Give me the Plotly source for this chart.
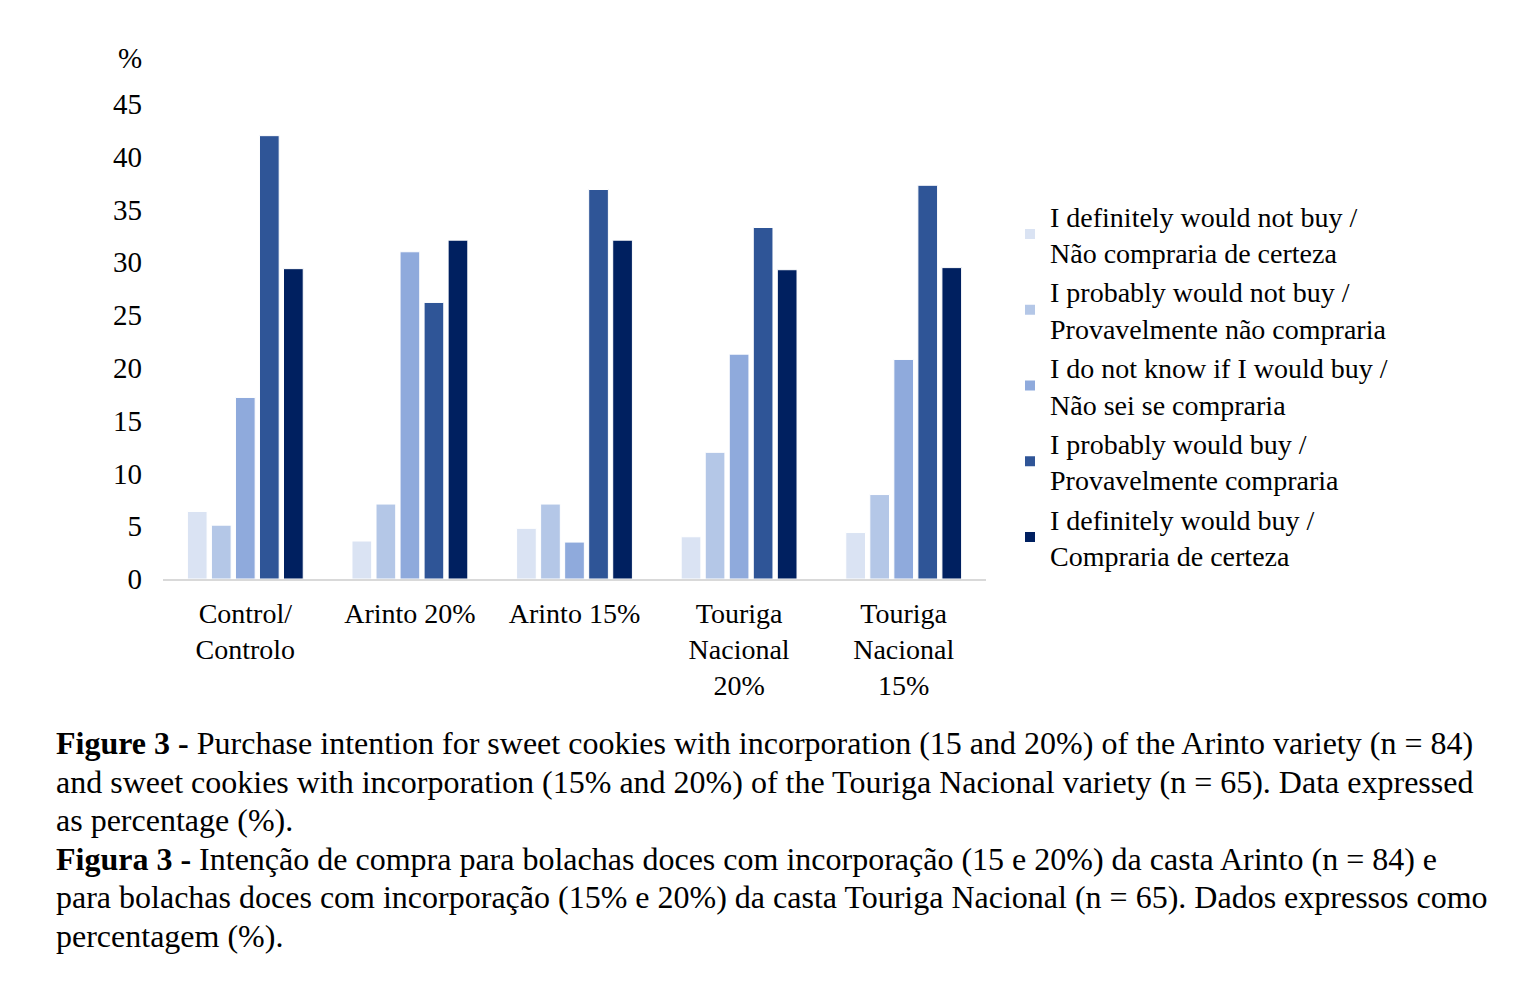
import plotly.graph_objects as go

# Purchase intention data (%)
groups = ["Control/<br>Controlo", "Arinto 20%", "Arinto 15%",
          "Touriga<br>Nacional<br>20%", "Touriga<br>Nacional<br>15%"]
series_names = [
    "I definitely would not buy /<br>Não compraria de certeza",
    "I probably would not buy /<br>Provavelmente não compraria",
    "I do not know if I would buy /<br>Não sei se compraria",
    "I probably would buy /<br>Provavelmente compraria",
    "I definitely would buy /<br>Compraria de certeza",
]
def_not = [6.4, 3.6, 4.8, 4.0, 4.4]
prob_not = [5.1, 7.1, 7.1, 12.0, 8.0]
dont_know = [17.2, 31.0, 3.5, 21.3, 20.8]
prob_buy = [42.0, 26.2, 36.9, 33.3, 37.3]
def_buy = [29.4, 32.1, 32.1, 29.3, 29.5]
colors = ["#DAE3F3", "#B4C7E7", "#8FAADC", "#2F5597", "#002060"]

caption = [
    "<b>Figure 3 -</b> Purchase intention for sweet cookies with incorporation (15 and 20%) of the Arinto variety (n = 84)",
    "and sweet cookies with incorporation (15% and 20%) of the Touriga Nacional variety (n = 65). Data expressed",
    "as percentage (%).",
    "<b>Figura 3 -</b> Intenção de compra para bolachas doces com incorporação (15 e 20%) da casta Arinto (n = 84) e",
    "para bolachas doces com incorporação (15% e 20%) da casta Touriga Nacional (n = 65). Dados expressos como",
    "percentagem (%).",
]

font = "Liberation Serif, Times New Roman, serif"

fig = go.Figure()
for name, vals, col in zip(series_names, [def_not, prob_not, dont_know, prob_buy, def_buy], colors):
    fig.add_trace(go.Bar(x=groups, y=vals, name=name, marker_color=col,
                         marker_line=dict(color="white", width=1)))

# page has an 8px body margin; work in page pixels and shift
OFF = 8
W, H = 1529 - 2 * OFF, 988 - 2 * OFF
L, R, T, B = 163 - OFF, 986 - OFF, 104 - OFF, 579 - OFF


def px_x(p):
    return (p - OFF - L) / (R - L)


def px_y(p):
    return (B - (p - OFF)) / (B - T)


fig.update_layout(
    width=W, height=H,
    margin=dict(l=L, r=W - R, t=T, b=H - B),
    paper_bgcolor="white", plot_bgcolor="white",
    font=dict(family=font, size=29, color="black"),
    barmode="group", bargap=0.27, bargroupgap=0.18,
    showlegend=True,
    legend=dict(x=px_x(1010), y=px_y(191), xanchor="left", yanchor="top",
                font=dict(size=28), tracegroupgap=0, itemsizing="constant",
                bgcolor="rgba(0,0,0,0)"),
)
fig.update_yaxes(range=[0, 45], dtick=5, showgrid=False, zeroline=False, showline=False,
                 ticks="", ticklabelstandoff=20, tickfont=dict(size=29))
fig.update_xaxes(showline=True, linecolor="#D9D9D9", linewidth=2, showgrid=False,
                 ticks="", ticklabelstandoff=8, tickfont=dict(size=28))

fig.add_annotation(text="%", xref="paper", yref="paper", x=px_x(130), y=px_y(58),
                   showarrow=False, font=dict(size=29), xanchor="center", yanchor="middle")

line_y = [743, 782, 820, 859, 897, 936]
for txt, yy in zip(caption, line_y):
    fig.add_annotation(text=txt, xref="paper", yref="paper", x=px_x(54), y=px_y(yy),
                       showarrow=False, xanchor="left", yanchor="middle",
                       font=dict(size=32), align="left")

fig.write_html("out.html")
